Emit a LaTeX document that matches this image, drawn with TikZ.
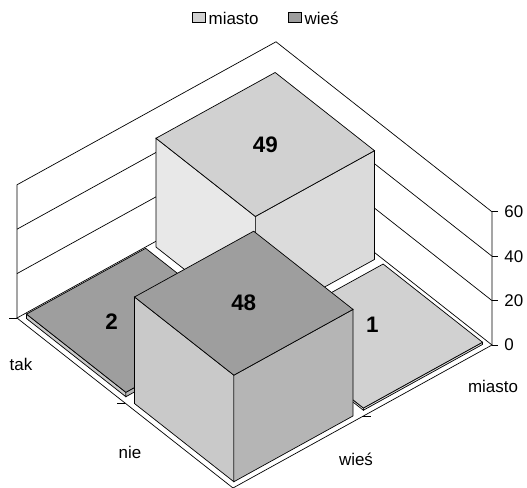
\documentclass[tikz,border=0pt]{standalone}
\usepackage{fontspec}
\setmainfont{Liberation Sans}
\usetikzlibrary{positioning}

\definecolor{miastotop}{gray}{0.82}
\definecolor{miastoleft}{gray}{0.91}
\definecolor{miastoright}{gray}{0.86}
\definecolor{wiestop}{gray}{0.62}
\definecolor{wiesleft}{gray}{0.79}
\definecolor{wiesright}{gray}{0.71}

% one column: a0, b0, height, series
\newcommand\drawcolumn[4]{%
  \pgfmathsetmacro\ahi{#1+0.46}%
  \pgfmathsetmacro\bhi{#2+0.46}%
  \filldraw[fill=#4left] (#1,#2,0) -- (\ahi,#2,0) -- (\ahi,#2,#3) -- (#1,#2,#3) -- cycle;
  \filldraw[fill=#4right] (#1,#2,0) -- (#1,\bhi,0) -- (#1,\bhi,#3) -- (#1,#2,#3) -- cycle;
  \filldraw[fill=#4top] (#1,#2,#3) -- (\ahi,#2,#3) -- (\ahi,\bhi,#3) -- (#1,\bhi,#3) -- cycle;
}

\begin{document}
\begin{tikzpicture}[line width=0.7bp, every node/.style={font=\fontsize{17}{20}\selectfont},
    value/.style={font=\fontsize{22.5}{26}\selectfont\bfseries},
    legbox/.style={draw, minimum width=13bp, minimum height=10bp, inner sep=0}]
  \useasboundingbox (0,0) rectangle (527bp,488bp);

  %legend
  \node[legbox, fill=miastotop] (legmiasto) at (198.5bp,471bp) {};
  \node (txtmiasto) [right=2bp of legmiasto, inner sep=1bp, yshift=-1bp] {miasto};
  \node[legbox, fill=wiestop] (legwies) at (294.5bp,471bp) {};
  \node (txtwies) [right=2bp of legwies, inner sep=1bp, yshift=-1bp] {wieś};

  \begin{scope}[shift={(233bp,0)}, x={(-216bp,170bp)}, y={(259bp,143bp)}, z={(0bp,2.22bp)}]
    %walls
    \draw (1,0,0) -- (1,0,60) -- (1,1,60) -- (0,1,60) -- (0,1,0);
    \foreach \v in {20,40}
      \draw (1,0,\v) -- (1,1,\v) -- (0,1,\v);
    %floor
    \draw (0,0,0) -- (1,0,0) -- (1,1,0) -- (0,1,0) -- cycle;

    %axes
    \draw (1,0,0) -- ++(-8bp,0);
    \draw (0.5,0,0) -- ++(-8bp,0);
    \draw (0,0.5,0) -- ++(8bp,0);
    \foreach \v in {0,20,40,60}
      \draw (0,1,\v) -- ++(6bp,0) node[right=6bp, inner sep=0] (tick\v) {\v};

    %columns, back to front
    \drawcolumn{0.52}{0.52}{49}{miasto}
    \drawcolumn{0.52}{0.02}{2}{wies}
    \drawcolumn{0.02}{0.52}{1}{miasto}
    \drawcolumn{0.02}{0.02}{48}{wies}

    \node[value] (v49) at (0.75,0.75,49) {49};
    \node[value] (v2) at (0.79,0.19,2) {2};
    \node[value] (v1) at (0.29,0.78,1) {1};
    \node[value] (v48) at (0.25,0.25,48) {48};
  \end{scope}

  %axis labels
  \node (tak) at (21bp,124bp) {tak};
  \node (nie) at (130bp,36bp) {nie};
  \node (wies) at (356bp,29bp) {wieś};
  \node (miasto) at (493bp,102bp) {miasto};
\end{tikzpicture}
\end{document}
